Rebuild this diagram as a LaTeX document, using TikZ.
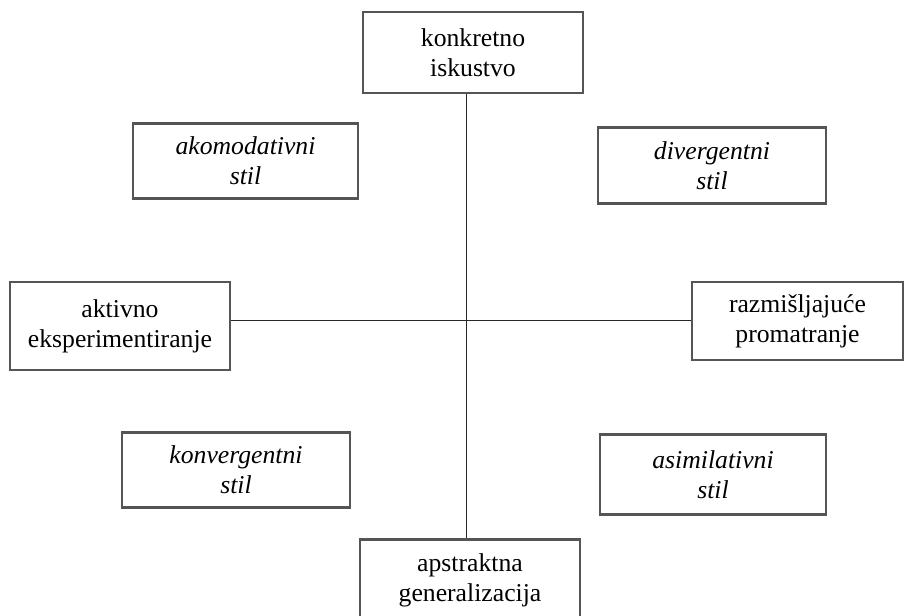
\documentclass[tikz,border=0pt]{standalone}
\usepackage{fontspec}
\setmainfont{Liberation Serif}
\usetikzlibrary{positioning}

\begin{document}
\begin{tikzpicture}[x=1pt,y=1pt,yscale=-1,xscale=1,
		box/.style={draw={rgb, 255:red, 85; green, 85; blue, 85}, line width=2.8pt, align=center, inner sep=0pt, font=\fontsize{25.7}{30}\selectfont},
		stilbox/.style={box, font=\fontsize{25.7}{30}\selectfont\itshape},
		link/.style={draw={rgb, 255:red, 40; green, 40; blue, 40}, line width=1pt}]
		%set diagram to 906 x 616, the lower box runs off the bottom edge
		\clip (0,0) rectangle (906,616);
		
		% Crossing of the two axes
		\coordinate (centre) at (466,320);
		
		% Text Node
		\node (konkretno) [box, minimum width=220, minimum height=81] at (473,52.5) {konkretno\\iskustvo};
		% Text Node
		\node (apstraktna) [box, minimum width=220, minimum height=81] at (470,580) {apstraktna\\generalizacija};
		% Text Node
		\node (aktivno) [box, minimum width=220, minimum height=88] at (120,326) {aktivno\\eksperimentiranje};
		% Text Node
		\node (razmisljajuce) [box, minimum width=211, minimum height=78] at (797.5,321) {razmišljajuće\\promatranje};
		
		% Text Node
		\node (akomodativni) [stilbox, minimum width=225, minimum height=75] at (245.5,161) {akomodativni\\stil};
		% Text Node
		\node (divergentni) [stilbox, minimum width=228, minimum height=76] at (712,165.5) {divergentni\\stil};
		% Text Node
		\node (konvergentni) [stilbox, minimum width=228, minimum height=75] at (236,470) {konvergentni\\stil};
		% Text Node
		\node (asimilativni) [stilbox, minimum width=226, minimum height=80] at (713,474.5) {asimilativni\\stil};
		
		%Straight Lines
		\draw [link] (konkretno.south -| centre) -- (apstraktna.north -| centre);
		%Straight Lines
		\draw [link] (aktivno.east |- centre) -- (razmisljajuce.west |- centre);
		
\end{tikzpicture}
\end{document}
